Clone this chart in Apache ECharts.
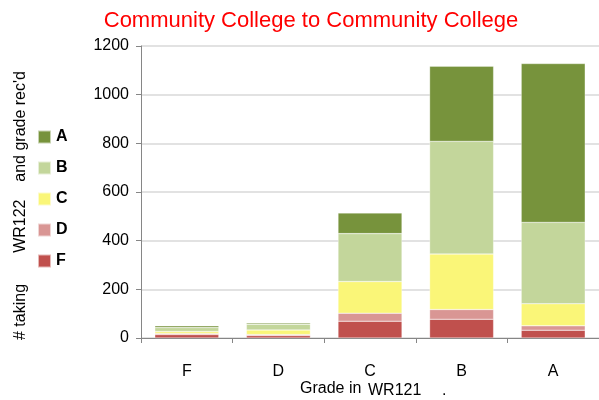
<!DOCTYPE html>
<html>
<head>
<meta charset="utf-8">
<script src="https://cdn.jsdelivr.net/npm/echarts@6/dist/echarts.min.js"></script>
<style>
  html, body { margin: 0; padding: 0; background: #fff; }
  #main { width: 599px; height: 400px; }
</style>
</head>
<body>
<div id="main"></div>
<script>
// grade in WR121 (x axis)
var categories = ['F', 'D', 'C', 'B', 'A'];
// number with each grade in WR122, per WR121 grade
var gradeF = [14, 10, 69, 77, 32];
var gradeD = [5, 4, 33, 40, 18];
var gradeC = [8, 19, 130, 228, 91];
var gradeB = [16, 24, 197, 463, 334];
var gradeA = [7, 5, 85, 309, 653];
var yTicks = [0, 200, 400, 600, 800, 1000, 1200];

var colors = {
  A: '#77933C',
  B: '#C3D69B',
  C: '#FAF678',
  D: '#D99694',
  F: '#C0504D'
};

function bar (name, data) {
  return {
    name: name,
    type: 'bar',
    stack: 'total',
    barWidth: 64,
    data: data,
    itemStyle: {
      color: colors[name],
      borderColor: 'rgba(255,255,255,0.6)',
      borderWidth: 0.5
    }
  };
}

var myChart = echarts.init(document.getElementById('main'));
myChart.setOption({
  animation: false,
  textStyle: { fontFamily: 'Liberation Sans, Arial, sans-serif' },
  title: {
    text: 'Community College to Community College',
    left: 306,
    textAlign: 'center',
    top: 5,
    textStyle: { color: '#FF0000', fontSize: 22, fontWeight: 'normal' }
  },
  legend: {
    orient: 'vertical',
    left: 32,
    top: 124,
    itemWidth: 13,
    itemHeight: 13,
    itemGap: 15,
    icon: 'rect',
    data: ['A', 'B', 'C', 'D', 'F'],
    textStyle: { fontSize: 16, fontWeight: 'bold', color: '#000' }
  },
  grid: { left: 141, top: 46, width: 465, height: 292 },
  xAxis: {
    type: 'category',
    data: categories,
    axisLine: { lineStyle: { color: '#868686', width: 1 } },
    axisTick: { show: true, length: 5, lineStyle: { color: '#868686' } },
    axisLabel: { fontSize: 16, color: '#000', margin: 26 }
  },
  yAxis: {
    type: 'value',
    min: yTicks[0],
    max: yTicks[yTicks.length - 1],
    interval: 200,
    axisLine: { show: true, lineStyle: { color: '#868686' } },
    axisTick: { show: true, length: 5, lineStyle: { color: '#868686' } },
    axisLabel: {
      fontSize: 16,
      color: '#000',
      margin: 12,
      formatter: function (v) { return String(v); }
    },
    splitLine: { lineStyle: { color: '#D9D9D9', width: 1.5 } }
  },
  graphic: [
    {
      type: 'text',
      left: 300,
      top: 381,
      style: { text: 'Grade in', fill: '#000', font: '16px Liberation Sans' }
    },
    {
      type: 'text',
      left: 368,
      top: 383,
      style: { text: 'WR121', fill: '#000', font: '16px Liberation Sans' }
    },
    {
      type: 'text',
      left: 442,
      top: 383,
      style: { text: '.', fill: '#000', font: '16px Liberation Sans' }
    },
    {
      type: 'text',
      x: 21,
      y: 340,
      rotation: Math.PI / 2,
      style: {
        text: '# taking       WR122    and grade rec\'d',
        fill: '#000',
        font: '16px Liberation Sans',
        textAlign: 'left',
        textVerticalAlign: 'middle'
      }
    }
  ],
  series: [
    bar('F', gradeF),
    bar('D', gradeD),
    bar('C', gradeC),
    bar('B', gradeB),
    bar('A', gradeA)
  ]
});
</script>
</body>
</html>
